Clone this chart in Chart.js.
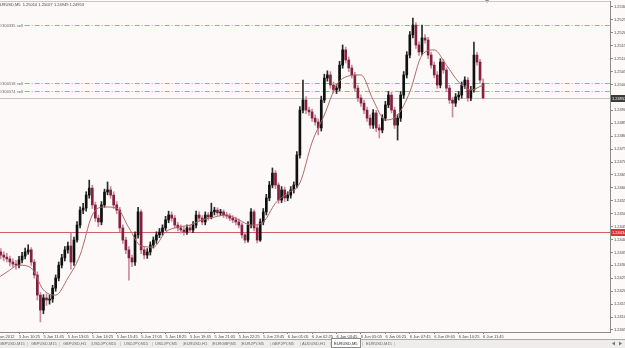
<!DOCTYPE html>
<html><head><meta charset="utf-8">
<script src="https://cdn.jsdelivr.net/npm/chart.js@4/dist/chart.umd.min.js"></script>
<style>html,body{margin:0;padding:0;background:#fcf9f8;overflow:hidden}canvas{display:block}</style>
</head><body>
<canvas id="c" width="625" height="348"></canvas>
<script>
const symbolTitle = "EURUSD,M5  1.25010 1.25027 1.24949 1.24953";
const timeLabels = ["5 Jun 2012","5 Jun 10:25","5 Jun 11:45","5 Jun 13:05","5 Jun 14:25","5 Jun 15:45","5 Jun 17:05","5 Jun 18:25","5 Jun 19:45","5 Jun 21:05","5 Jun 22:25","5 Jun 23:45","6 Jun 01:05","6 Jun 02:25","6 Jun 03:45","6 Jun 05:05","6 Jun 06:25","6 Jun 07:45","6 Jun 09:05","6 Jun 10:25","6 Jun 11:45"];
const barsPerLabel = 8;
const opens = [1.24360,1.24365,1.24357,1.24345,1.24337,1.24330,1.24318,1.24310,1.24306,1.24326,
1.24341,1.24357,1.24365,1.24318,1.24268,1.24190,1.24132,1.24179,1.24171,1.24175,
1.24217,1.24256,1.24306,1.24334,1.24365,1.24380,1.24318,1.24403,1.24461,1.24519,
1.24527,1.24577,1.24604,1.24539,1.24488,1.24473,1.24539,1.24589,1.24597,1.24577,
1.24539,1.24519,1.24450,1.24403,1.24365,1.24334,1.24318,1.24423,1.24512,1.24365,
1.24345,1.24357,1.24384,1.24403,1.24423,1.24434,1.24450,1.24481,1.24500,1.24488,
1.24461,1.24450,1.24442,1.24434,1.24450,1.24442,1.24461,1.24500,1.24488,1.24473,
1.24500,1.24492,1.24512,1.24519,1.24508,1.24512,1.24500,1.24496,1.24488,1.24481,
1.24473,1.24461,1.24423,1.24403,1.24461,1.24512,1.24450,1.24403,1.24473,1.24512,
1.24566,1.24616,1.24662,1.24616,1.24558,1.24597,1.24566,1.24577,1.24597,1.24616,
1.24732,1.24906,1.24945,1.24906,1.24899,1.24875,1.24860,1.24837,1.24945,1.25030,
1.25042,1.25003,1.24984,1.24991,1.25080,1.25139,1.25100,1.25069,1.25042,1.24991,
1.24953,1.24933,1.24906,1.24875,1.24848,1.24895,1.24837,1.24829,1.24875,1.24926,
1.24964,1.24906,1.24848,1.24875,1.24964,1.25042,1.25119,1.25197,1.25235,1.25158,
1.25131,1.25185,1.25177,1.25119,1.25080,1.25042,1.25003,1.25092,1.25061,1.24991,
1.24945,1.24933,1.24957,1.24964,1.25003,1.25022,1.24953,1.24984,1.25119,1.25092,
1.25010];
const highs = [1.24378,1.24376,1.24370,1.24358,1.24352,1.24341,1.24330,1.24325,1.24340,1.24356,
1.24372,1.24385,1.24374,1.24328,1.24280,1.24200,1.24192,1.24195,1.24190,1.24228,
1.24268,1.24318,1.24348,1.24378,1.24395,1.24430,1.24415,1.24475,1.24532,1.24545,
1.24590,1.24635,1.24615,1.24550,1.24500,1.24552,1.24600,1.24628,1.24610,1.24590,
1.24552,1.24530,1.24462,1.24415,1.24378,1.24345,1.24435,1.24530,1.24520,1.24378,
1.24370,1.24396,1.24415,1.24435,1.24448,1.24462,1.24495,1.24515,1.24512,1.24498,
1.24472,1.24462,1.24455,1.24462,1.24460,1.24475,1.24515,1.24512,1.24498,1.24512,
1.24510,1.24546,1.24530,1.24528,1.24522,1.24520,1.24510,1.24505,1.24498,1.24492,
1.24485,1.24470,1.24432,1.24475,1.24525,1.24520,1.24460,1.24485,1.24525,1.24580,
1.24630,1.24682,1.24672,1.24625,1.24610,1.24608,1.24590,1.24610,1.24628,1.24745,
1.24920,1.25022,1.24958,1.24918,1.24910,1.24888,1.24872,1.24960,1.25045,1.25058,
1.25055,1.25015,1.25005,1.25095,1.25158,1.25150,1.25112,1.25080,1.25052,1.25002,
1.24965,1.24945,1.24918,1.24888,1.24908,1.24905,1.24850,1.24888,1.24940,1.24978,
1.24975,1.24918,1.24888,1.24978,1.25055,1.25132,1.25210,1.25262,1.25245,1.25170,
1.25235,1.25198,1.25188,1.25130,1.25092,1.25055,1.25105,1.25102,1.25070,1.25002,
1.24955,1.24970,1.24978,1.25015,1.25035,1.25032,1.24998,1.25169,1.25130,1.25102,
1.25027];
const lows = [1.24348,1.24345,1.24330,1.24322,1.24318,1.24303,1.24298,1.24290,1.24295,1.24315,
1.24330,1.24348,1.24305,1.24255,1.24171,1.24086,1.24118,1.24150,1.24155,1.24162,
1.24205,1.24245,1.24295,1.24322,1.24352,1.24290,1.24305,1.24395,1.24450,1.24505,
1.24515,1.24565,1.24525,1.24475,1.24455,1.24462,1.24530,1.24578,1.24565,1.24525,
1.24505,1.24435,1.24390,1.24350,1.24248,1.24300,1.24305,1.24410,1.24350,1.24330,
1.24332,1.24345,1.24372,1.24390,1.24412,1.24422,1.24440,1.24470,1.24476,1.24450,
1.24438,1.24430,1.24422,1.24425,1.24432,1.24432,1.24450,1.24476,1.24462,1.24462,
1.24480,1.24485,1.24500,1.24498,1.24498,1.24490,1.24486,1.24478,1.24470,1.24462,
1.24450,1.24410,1.24392,1.24395,1.24450,1.24438,1.24392,1.24398,1.24462,1.24500,
1.24555,1.24605,1.24602,1.24545,1.24548,1.24552,1.24555,1.24565,1.24585,1.24605,
1.24720,1.24895,1.24892,1.24885,1.24862,1.24848,1.24810,1.24825,1.24935,1.25018,
1.24990,1.24972,1.24970,1.24980,1.25068,1.25088,1.25055,1.25030,1.24978,1.24940,
1.24920,1.24892,1.24862,1.24835,1.24835,1.24822,1.24798,1.24818,1.24865,1.24915,
1.24895,1.24835,1.24790,1.24862,1.24952,1.25030,1.25108,1.25185,1.25145,1.25118,
1.25120,1.25165,1.25105,1.25068,1.25030,1.24990,1.24992,1.25048,1.24978,1.24932,
1.24879,1.24920,1.24945,1.24952,1.24990,1.24940,1.24942,1.24975,1.25080,1.25010,
1.24949];
const closes = [1.24365,1.24357,1.24345,1.24337,1.24330,1.24318,1.24310,1.24306,1.24326,1.24341,
1.24357,1.24365,1.24318,1.24268,1.24190,1.24132,1.24179,1.24171,1.24175,1.24217,
1.24256,1.24306,1.24334,1.24365,1.24380,1.24318,1.24403,1.24461,1.24519,1.24527,
1.24577,1.24604,1.24539,1.24488,1.24473,1.24539,1.24589,1.24597,1.24577,1.24539,
1.24519,1.24450,1.24403,1.24365,1.24334,1.24318,1.24423,1.24512,1.24365,1.24345,
1.24357,1.24384,1.24403,1.24423,1.24434,1.24450,1.24481,1.24500,1.24488,1.24461,
1.24450,1.24442,1.24434,1.24450,1.24442,1.24461,1.24500,1.24488,1.24473,1.24500,
1.24492,1.24512,1.24519,1.24508,1.24512,1.24500,1.24496,1.24488,1.24481,1.24473,
1.24461,1.24423,1.24403,1.24461,1.24512,1.24450,1.24403,1.24473,1.24512,1.24566,
1.24616,1.24662,1.24616,1.24558,1.24597,1.24566,1.24577,1.24597,1.24616,1.24732,
1.24906,1.24945,1.24906,1.24899,1.24875,1.24860,1.24837,1.24945,1.25030,1.25042,
1.25003,1.24984,1.24991,1.25080,1.25139,1.25100,1.25069,1.25042,1.24991,1.24953,
1.24933,1.24906,1.24875,1.24848,1.24895,1.24837,1.24829,1.24875,1.24926,1.24964,
1.24906,1.24848,1.24875,1.24964,1.25042,1.25119,1.25197,1.25235,1.25158,1.25131,
1.25185,1.25177,1.25119,1.25080,1.25042,1.25003,1.25092,1.25061,1.24991,1.24945,
1.24933,1.24957,1.24964,1.25003,1.25022,1.24953,1.24984,1.25119,1.25092,1.25022,
1.24953];
const maIndex = [0,4,8,12,16,20,24,28,32,36,40,44,48,52,56,60,64,68,72,76,80,84,88,92,96,100,104,108,112,116,120,124,128,132,136,140,144,148,152,156,160];
const maValues = [1.24248,1.24279,1.24306,1.24295,1.24210,1.24190,1.24256,1.24345,1.24500,1.24531,
1.24527,1.24450,1.24380,1.24376,1.24434,1.24453,1.24461,1.24481,1.24492,1.24500,
1.24481,1.24461,1.24473,1.24546,1.24585,1.24624,1.24782,1.24887,1.25003,1.25038,
1.25042,1.24945,1.24868,1.24887,1.24976,1.25119,1.25139,1.25080,1.25015,1.24984,
1.25003];
const priceTicks = [1.24055,1.24105,1.24155,1.24205,1.24255,1.24305,1.24355,1.24405,1.24455,1.24505,1.24555,1.24605,1.24655,1.24705,1.24755,1.24805,1.24855,1.24905,1.24955,1.25005,1.25055,1.25105,1.25155,1.25205,1.25255,1.25305];
const orderLevels = [1.25235, 1.25011, 1.24980];
const orderLabels = ["#300335 sell", "#300518 sell", "#300574 sell"];
const alertLevel = 1.24434;
const tabs = ["GBPUSD,M15","GBPUSD,M15","GBPUSD,H1","USDJPY,M15","USDJPY,M15","USDJPY,M5","EURUSD,H1","EURGBP,M5","EURJPY,M5","GBPJPY,M5","AUDUSD,H1","EURUSD,M5","EURUSD,M15"];
const activeTab = 11;

const idx = closes.map((_, i) => i);
const lastPrice = closes[closes.length - 1];
const FONT = '"Liberation Sans", Arial, sans-serif';
const BULL = '#101010', BEAR = '#85203f', BULLW = '#2a2a2a', BEARW = '#c98ba2';
const isBull = i => closes[i] >= opens[i];

const mt4 = {
  id: 'mt4',
  beforeDraw(c) {
    const g = c.ctx; g.save(); g.fillStyle = '#fcf9f8'; g.fillRect(0, 0, c.width, c.height); g.restore();
  },
  beforeDatasetsDraw(c) {
    const g = c.ctx, a = c.chartArea, ys = c.scales.y;
    g.save(); g.lineWidth = 1;
    g.font = '4px ' + FONT;
    orderLevels.forEach((v, k) => {
      const py = Math.round(ys.getPixelForValue(v)) + 0.5;
      const w = g.measureText(orderLabels[k]).width;
      g.strokeStyle = '#7cc27c'; g.setLineDash([5, 2, 1, 2]);
      g.beginPath(); g.moveTo(w + 2, py); g.lineTo(a.right, py); g.stroke();
    });
    g.setLineDash([]);
    let py = Math.round(ys.getPixelForValue(alertLevel)) + 0.5;
    g.strokeStyle = '#d06060'; g.beginPath(); g.moveTo(a.left, py); g.lineTo(a.right, py); g.stroke();
    py = Math.round(ys.getPixelForValue(lastPrice)) + 0.5;
    g.strokeStyle = '#c4c4c4'; g.beginPath(); g.moveTo(a.left, py); g.lineTo(a.right, py); g.stroke();
    g.restore();
  },
  afterDraw(c) {
    const g = c.ctx, a = c.chartArea, ys = c.scales.y, xs = c.scales.x;
    g.save();
    g.font = '4px ' + FONT; g.textBaseline = 'middle'; g.textAlign = 'left';
    g.fillStyle = '#444';
    g.fillText(symbolTitle, -3, 5);
    orderLabels.forEach((t, k) => {
      const py = Math.round(ys.getPixelForValue(orderLevels[k])) + 0.5;
      g.fillStyle = '#666'; g.fillText(t, 0, py);
    });
    const box = (v, bg) => {
      const py = Math.round(ys.getPixelForValue(v));
      g.fillStyle = bg; g.fillRect(a.right + 1, py - 3, 16, 7);
      g.fillStyle = '#fff'; g.fillText(v.toFixed(5), a.right + 2, py + 0.5);
    };
    box(alertLevel, '#d8343a');
    box(lastPrice, '#3c3c3c');
    const sx = xs.getPixelForValue(idx.length + 0.3);
    g.fillStyle = '#888'; g.beginPath(); g.moveTo(sx - 2, 0); g.lineTo(sx + 2, 0); g.lineTo(sx, 3); g.closePath(); g.fill();
    g.strokeStyle = '#c9c9c9'; g.lineWidth = 1;
    g.beginPath(); g.moveTo(0, a.top + 0.5); g.lineTo(a.right, a.top + 0.5); g.stroke();
    const ty = 339;
    g.fillStyle = '#efedec'; g.fillRect(0, ty, c.width, c.height - ty);
    g.strokeStyle = '#a8a8a8'; g.beginPath(); g.moveTo(0, ty + 0.5); g.lineTo(c.width, ty + 0.5); g.stroke();
    const tabX = [-1, 31, 63, 92, 124, 155, 184, 213, 242, 272, 302, 334, 366];
    tabs.forEach((t, k) => {
      const x = tabX[k];
      if (k === activeTab) {
        g.fillStyle = '#ffffff'; g.fillRect(x - 3, ty - 1, 30, 10);
        g.strokeStyle = '#8a8a8a'; g.strokeRect(x - 2.5, ty - 0.5, 29, 9);
      }
      g.fillStyle = k === activeTab ? '#222' : '#666';
      g.fillText(t, x, ty + 4.5);
      g.fillStyle = '#999';
      g.fillText('|', x + 28, ty + 4.5);
    });
    g.fillStyle = '#777';
    g.beginPath(); g.moveTo(612, ty + 4.5); g.lineTo(615, ty + 2.5); g.lineTo(615, ty + 6.5); g.closePath(); g.fill();
    g.beginPath(); g.moveTo(622, ty + 4.5); g.lineTo(619, ty + 2.5); g.lineTo(619, ty + 6.5); g.closePath(); g.fill();
    g.restore();
  }
};

new Chart(document.getElementById('c'), {
  type: 'bar',
  data: {
    datasets: [
      { type: 'line', label: 'MA', data: maIndex.map((x, k) => ({ x, y: maValues[k] })),
        borderColor: '#b06a66', borderWidth: 1, pointRadius: 0, cubicInterpolationMode: 'monotone', order: 0 },
      { label: 'wick', data: idx.map(i => ({ x: i, y: [lows[i], highs[i]] })), grouped: false,
        barThickness: 1, backgroundColor: cx => isBull(cx.dataIndex) ? BULLW : BEARW, order: 2 },
      { label: 'body', data: idx.map(i => ({ x: i, y: [opens[i], closes[i]] })), grouped: false,
        barThickness: 2, minBarLength: 1, backgroundColor: cx => isBull(cx.dataIndex) ? BULL : BEAR, order: 1 }
    ]
  },
  options: {
    responsive: false, animation: false,
    layout: { padding: { top: 1, left: 0, right: 0, bottom: 0 } },
    plugins: { legend: { display: false }, tooltip: { enabled: false } },
    scales: {
      x: {
        type: 'linear', min: 1.769, max: 201.57, offset: false,
        afterBuildTicks: s => { s.ticks = timeLabels.map((t, k) => ({ value: k * barsPerLabel })); },
        afterFit: s => { s.height = 16; s.paddingLeft = 0; s.paddingRight = 0; },
        ticks: { autoSkip: false, maxRotation: 0, minRotation: 0, align: 'start', padding: 0,
          font: { size: 4, family: FONT }, color: '#444',
          callback: (v, i) => timeLabels[i] },
        grid: { drawOnChartArea: false, tickLength: 2, color: '#888', offset: false },
        border: { color: '#8a8a8a' }
      },
      y: {
        type: 'linear', position: 'right', min: 1.240472, max: 1.253282,
        afterBuildTicks: s => { s.ticks = priceTicks.map(v => ({ value: v })); },
        afterFit: s => { s.width = 15; s.paddingTop = 0; s.paddingBottom = 0; },
        ticks: { padding: 1, font: { size: 4, family: FONT }, color: '#444', callback: v => Number(v).toFixed(5) },
        grid: { drawOnChartArea: false, tickLength: 3, color: '#888' },
        border: { color: '#8a8a8a' }
      }
    }
  },
  plugins: [mt4]
});
</script>
</body></html>
